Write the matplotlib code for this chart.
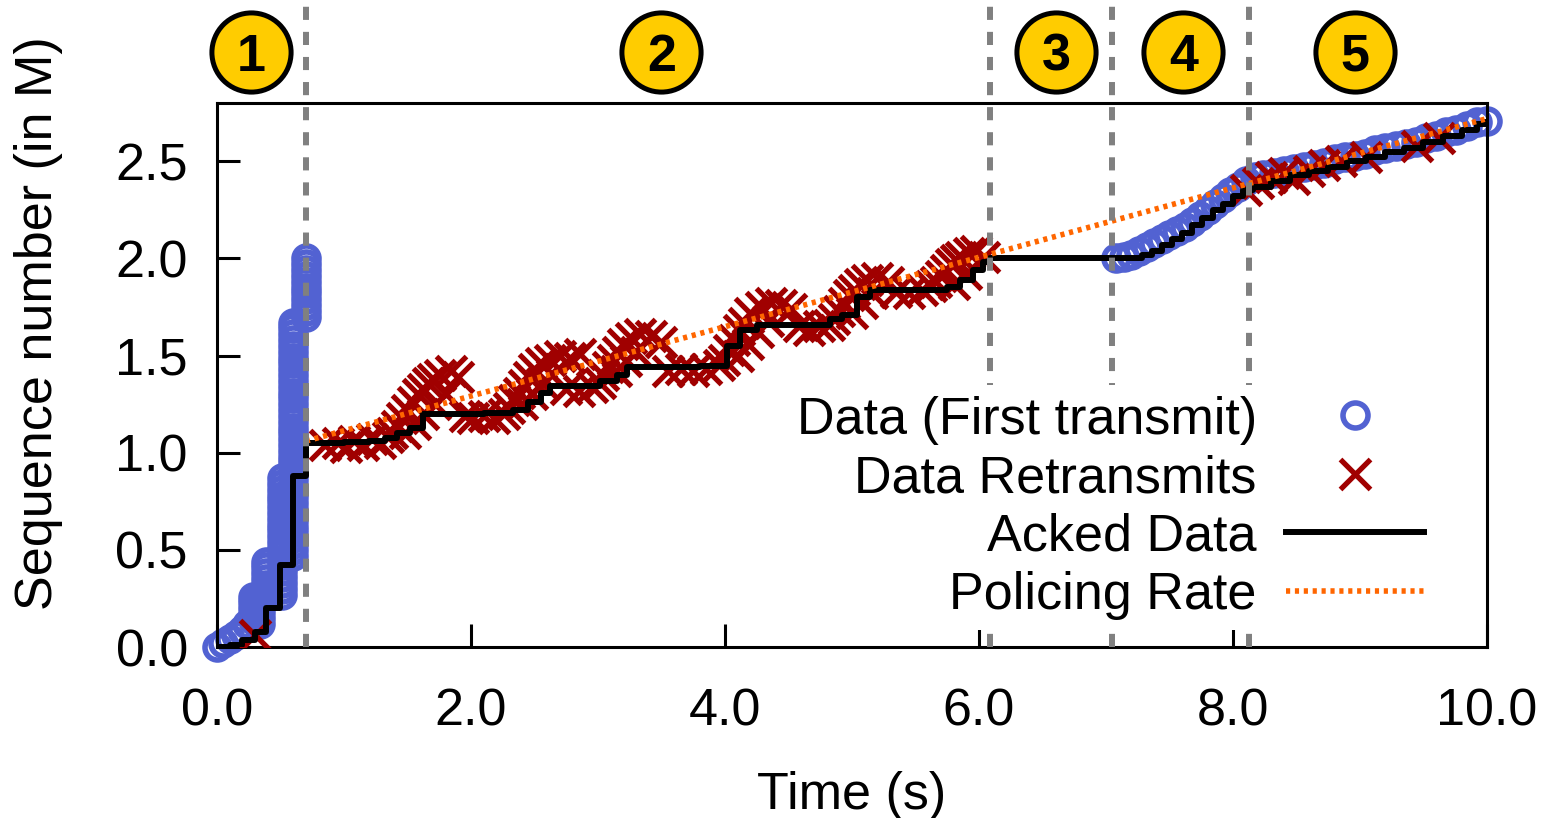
import matplotlib
matplotlib.use("Agg")
import matplotlib.pyplot as plt

# ===== data =====
# first transmissions (time s, sequence M)
first_t = [0.00, 0.05, 0.10, 0.15, 0.20, 0.24,
           0.28, 0.28, 0.28, 0.28, 0.28,
           0.34, 0.34, 0.34, 0.34, 0.34, 0.34,
           0.39, 0.39, 0.39, 0.39, 0.39, 0.39, 0.39,
           0.51, 0.51, 0.51, 0.51, 0.51, 0.51, 0.51, 0.51, 0.51, 0.51, 0.51,
           0.51, 0.51, 0.51, 0.51, 0.51, 0.51, 0.51, 0.51, 0.51, 0.51,
           0.60, 0.60, 0.60, 0.60, 0.60, 0.60, 0.60, 0.60, 0.60, 0.60,
           0.60, 0.60, 0.60, 0.60, 0.60, 0.60, 0.60, 0.60, 0.60, 0.60,
           0.60, 0.60, 0.60, 0.60, 0.60, 0.60, 0.60, 0.60, 0.60, 0.60,
           0.60, 0.60, 0.60, 0.60, 0.60, 0.60, 0.60, 0.60, 0.60, 0.60, 0.60,
           0.705, 0.705, 0.705, 0.705, 0.705, 0.705, 0.705, 0.705, 0.705, 0.705, 0.705,
           7.08, 7.14, 7.20, 7.26, 7.32, 7.38, 7.44, 7.50, 7.56, 7.62, 7.68, 7.74, 7.80, 7.86,
           7.92, 7.98, 8.04, 8.10, 8.17, 8.24, 8.32, 8.40, 8.48, 8.56, 8.64, 8.72, 8.80, 8.88,
           8.96, 9.04, 9.12, 9.20, 9.28, 9.36, 9.44, 9.52, 9.60, 9.68, 9.76, 9.84, 9.92, 10.0]
first_seq = [0.00, 0.02, 0.04, 0.06, 0.09, 0.12,
             0.14, 0.17, 0.20, 0.23, 0.26,
             0.12, 0.15, 0.18, 0.21, 0.24, 0.27,
             0.26, 0.29, 0.32, 0.35, 0.38, 0.41, 0.44,
             0.27, 0.30, 0.33, 0.36, 0.39, 0.42, 0.45, 0.48, 0.51, 0.54, 0.57,
             0.60, 0.63, 0.66, 0.69, 0.72, 0.75, 0.78, 0.81, 0.84, 0.87,
             0.47, 0.50, 0.53, 0.56, 0.59, 0.62, 0.65, 0.68, 0.71, 0.74,
             0.77, 0.80, 0.83, 0.86, 0.89, 0.92, 0.95, 0.98, 1.01, 1.04,
             1.07, 1.10, 1.13, 1.16, 1.19, 1.22, 1.25, 1.28, 1.31, 1.34,
             1.37, 1.40, 1.43, 1.46, 1.49, 1.52, 1.55, 1.58, 1.61, 1.64, 1.67,
             1.70, 1.73, 1.76, 1.79, 1.82, 1.85, 1.88, 1.91, 1.94, 1.97, 2.00,
             2.00, 2.01, 2.02, 2.04, 2.06, 2.08, 2.10, 2.12, 2.14, 2.16, 2.19, 2.22, 2.25, 2.28,
             2.31, 2.34, 2.37, 2.40, 2.42, 2.43, 2.44, 2.45, 2.46, 2.47, 2.48, 2.49, 2.51, 2.52,
             2.53, 2.54, 2.56, 2.57, 2.58, 2.59, 2.60, 2.62, 2.63, 2.65, 2.66, 2.68, 2.70, 2.71]

# retransmissions
retx_t = [0.30,
          0.85, 0.95, 1.02, 1.08, 1.15, 1.22, 1.28, 1.35,
          1.38, 1.42, 1.46, 1.50, 1.54, 1.58, 1.62, 1.66, 1.70, 1.76, 1.84, 1.90,
          1.48, 1.56, 1.62, 1.72, 1.80,
          1.95, 2.02, 2.10, 2.18, 2.26,
          2.30, 2.34, 2.38, 2.42, 2.46, 2.50, 2.55, 2.62, 2.70, 2.78, 2.86,
          2.40, 2.48, 2.56, 2.64,
          2.75, 2.85, 2.95, 3.02,
          3.04, 3.08, 3.12, 3.16, 3.20, 3.26, 3.33, 3.42, 3.50,
          3.14, 3.22, 3.30,
          3.55, 3.65, 3.75, 3.85, 3.95,
          3.99, 4.03, 4.07, 4.11, 4.15, 4.20, 4.28, 4.36, 4.44, 4.52,
          4.10, 4.18, 4.26, 4.34,
          4.58, 4.66, 4.74, 4.82,
          4.86, 4.90, 4.94, 4.98, 5.02, 5.06, 5.12, 5.20, 5.28,
          5.00, 5.08, 5.16,
          5.35, 5.45, 5.55, 5.62,
          5.66, 5.70, 5.74, 5.78, 5.82, 5.86, 5.92, 5.98, 6.04,
          5.80, 5.90,
          8.10, 8.20, 8.30, 8.40, 8.48, 8.60, 8.72, 8.85, 9.05, 9.45, 9.62]
retx_seq = [0.06,
            1.04, 1.05, 1.03, 1.06, 1.04, 1.07, 1.05, 1.08,
            1.10, 1.14, 1.18, 1.22, 1.26, 1.30, 1.33, 1.36, 1.38, 1.40, 1.42, 1.39,
            1.10, 1.15, 1.20, 1.25, 1.30,
            1.19, 1.18, 1.19, 1.18, 1.20,
            1.23, 1.27, 1.31, 1.35, 1.39, 1.43, 1.46, 1.48, 1.50, 1.49, 1.51,
            1.25, 1.30, 1.36, 1.40,
            1.33, 1.32, 1.34, 1.36,
            1.40, 1.44, 1.48, 1.52, 1.56, 1.59, 1.61, 1.60, 1.57,
            1.42, 1.47, 1.52,
            1.42, 1.43, 1.42, 1.43, 1.45,
            1.48, 1.53, 1.58, 1.63, 1.67, 1.72, 1.75, 1.77, 1.76, 1.74,
            1.50, 1.56, 1.62, 1.68,
            1.65, 1.63, 1.65, 1.66,
            1.69, 1.73, 1.77, 1.81, 1.84, 1.87, 1.89, 1.90, 1.88,
            1.72, 1.77, 1.82,
            1.83, 1.82, 1.84, 1.86,
            1.88, 1.91, 1.94, 1.97, 1.99, 2.01, 2.03, 2.04, 2.01,
            1.87, 1.92,
            2.35, 2.39, 2.42, 2.44, 2.41, 2.45, 2.48, 2.50, 2.52, 2.58, 2.62]

# acked data (step points)
ack_t = [0.00, 0.10, 0.20, 0.30, 0.39, 0.50, 0.60, 0.70,
         1.00, 1.20, 1.32, 1.42, 1.52, 1.62,
         2.10, 2.33, 2.45, 2.55, 2.62,
         3.02, 3.15, 3.23,
         3.80, 4.02, 4.12, 4.25,
         4.83, 4.92, 5.04, 5.14,
         5.75, 5.85, 5.95, 6.03, 6.09,
         7.20, 7.28, 7.36, 7.44, 7.52, 7.60, 7.68, 7.76, 7.84, 7.92, 8.00, 8.08, 8.16,
         8.30, 8.45, 8.60, 8.75, 8.90, 9.05, 9.20, 9.35, 9.50, 9.65, 9.80, 9.92, 10.0]
ack_seq = [0.00, 0.01, 0.035, 0.075, 0.20, 0.42, 0.88, 1.05,
           1.055, 1.06, 1.075, 1.10, 1.13, 1.20,
           1.205, 1.22, 1.26, 1.31, 1.345,
           1.37, 1.40, 1.44,
           1.445, 1.55, 1.63, 1.66,
           1.69, 1.71, 1.80, 1.84,
           1.855, 1.89, 1.94, 1.98, 2.00,
           2.00, 2.02, 2.04, 2.07, 2.10, 2.13, 2.17, 2.21, 2.25, 2.28, 2.32, 2.35, 2.37,
           2.40, 2.43, 2.45, 2.47, 2.50, 2.52, 2.55, 2.57, 2.60, 2.63, 2.66, 2.69, 2.70]

# policing rate line
police_t = [0.70, 10.0]
police_seq = [1.06, 2.72]

# phase boundaries and badges
phase_bounds = [0.70, 6.09, 7.05, 8.13]
badge_x = [0.27, 3.50, 6.61, 7.61, 8.96]
badge_labels = ["1", "2", "3", "4", "5"]

FS = 37.5
plt.rcParams["font.family"] = ["Liberation Sans", "DejaVu Sans"]

fig = plt.figure(figsize=(15.42, 8.18), dpi=100)
ax = fig.add_axes([0.1407, 0.209, 0.8236, 0.665])

ax.plot(first_t, first_seq, "o", ms=18, mfc="none", mec="#5262d2", mew=4,
        clip_on=False, zorder=2, label="Data (First transmit)")
ax.plot(retx_t, retx_seq, "x", ms=22, mec="#a00000", mew=3.8,
        zorder=3, label="Data Retransmits")
ax.plot(ack_t, ack_seq, color="black", lw=4.3, drawstyle="steps-post",
        zorder=4, label="Acked Data")
ax.plot(police_t, police_seq, color="#ff6600", lw=4, linestyle=(0, (0.75, 0.85)),
        zorder=4.5, label="Policing Rate")

for b in phase_bounds:
    ax.axvline(b, ymin=0, ymax=1.18, color="#808080", lw=4.3,
               linestyle=(0, (2.2, 2.0)), clip_on=False, zorder=4.8)

xtr = ax.get_xaxis_transform()
for bx, lab in zip(badge_x, badge_labels):
    ax.plot(bx, 1.094, "o", ms=57, mfc="#ffcc00", mec="black", mew=3.6,
            transform=xtr, clip_on=False, zorder=6)
    ax.text(bx, 1.094, lab, transform=xtr, ha="center", va="center_baseline",
            fontsize=FS, fontweight="bold", zorder=7)

ax.set_xlim(0, 10)
ax.set_ylim(0, 2.8)
ax.set_xticks([0, 2, 4, 6, 8, 10])
ax.set_xticklabels(["0.0", "2.0", "4.0", "6.0", "8.0", "10.0"])
ax.set_yticks([0, 0.5, 1.0, 1.5, 2.0, 2.5])
ax.set_yticklabels(["0.0", "0.5", "1.0", "1.5", "2.0", "2.5"])
ax.tick_params(direction="in", length=16.5, width=2.2, labelsize=FS,
               top=False, right=False)
ax.tick_params(axis="x", pad=29)
ax.tick_params(axis="y", pad=21)
for s in ax.spines.values():
    s.set_linewidth(2.2)

ax.set_xlabel("Time (s)", fontsize=FS)
ax.set_ylabel("Sequence number (in M)", fontsize=FS)
ax.xaxis.set_label_coords(0.5, -0.228)
ax.yaxis.set_label_coords(-0.121, 0.596)

leg = ax.legend(loc="lower right", bbox_to_anchor=(0.959, 0.031),
                markerfirst=False, frameon=True, fancybox=False, fontsize=FS,
                handlelength=2.65, handletextpad=0.57, labelspacing=0.18,
                borderpad=0.2, borderaxespad=0, framealpha=1)
leg.get_frame().set_edgecolor("none")
leg.get_frame().set_facecolor("white")
leg.set_zorder(5)

fig.savefig("out.png", dpi=100)
